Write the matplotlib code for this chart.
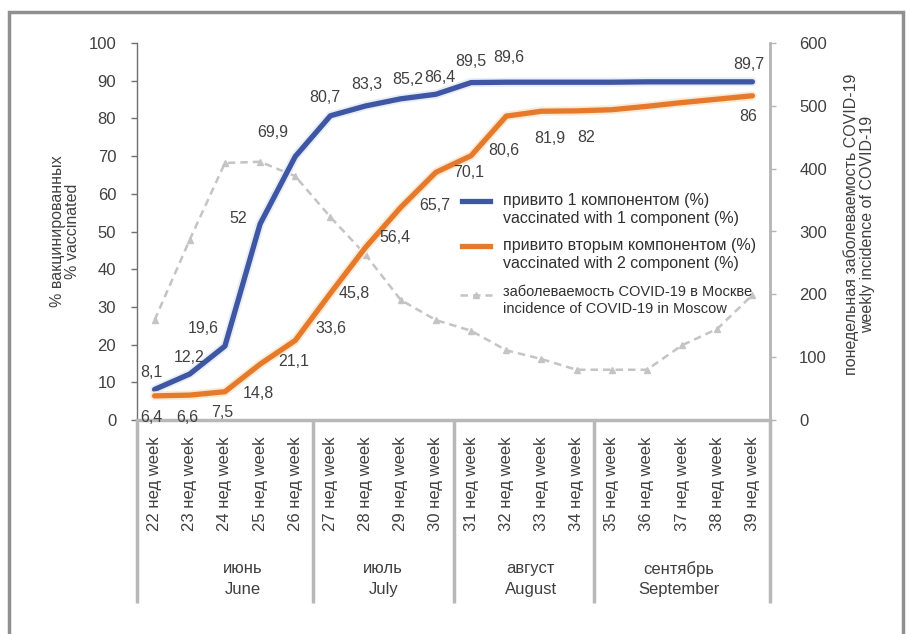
import numpy as np
import matplotlib
matplotlib.use("Agg")
import matplotlib.pyplot as plt
from matplotlib import patheffects as pe
from matplotlib import transforms
from matplotlib.patches import Rectangle

plt.rcParams['font.family'] = ['Liberation Sans', 'DejaVu Sans']

# недели и месяцы
nedeli = [f"{n} нед week" for n in range(22, 40)]
mesyacy = ["июнь\nJune", "июль\nJuly", "август\nAugust", "сентябрь\nSeptember"]
nedel_v_mesyace = [5, 4, 4, 5]

# % привитых
privito_1 = [8.1, 12.2, 19.6, 52, 69.9, 80.7, 83.3, 85.2, 86.4, 89.5, 89.6,
             89.6, 89.6, 89.6, 89.7, 89.7, 89.7, 89.7]
privito_2 = [6.4, 6.6, 7.5, 14.8, 21.1, 33.6, 45.8, 56.4, 65.7, 70.1, 80.6,
             81.9, 82, 82.3, 83.2, 84.2, 85.1, 86]
# заболеваемость по неделям
zabolevaemost = [159, 287, 409, 411, 388, 323, 263, 191, 159, 142, 111,
                 97, 80, 80, 80, 119, 145, 199]

# какие точки подписаны
podpisi_1 = list(range(11)) + [17]
podpisi_2 = list(range(13)) + [17]

# сдвиги подписей (пиксели)
sdvig_1 = [(-3, 17), (-1, 17), (-22, 18), (-22, 5), (-22, 24), (-6, 18),
           (1, 21), (7, 19), (4, 17), (0, 21), (3, 25), (-4, 17)]
sdvig_2 = [(-3, -22), (-2, -22), (-3, -21), (-2, -29), (-2, -21), (1, -35),
           (-11, -46), (-6, -30), (-1, -33), (-2, -17), (-2, -34), (8, -27),
           (10, -27), (-4, -21)]

SINIY = '#3f56a3'
ORANZH = '#e67a2c'
SERYJ = '#c4c4c4'
TEKST = '#404040'

fig = plt.figure(figsize=(9.06, 6.34), dpi=100)
ax = fig.add_axes([137 / 906, 1 - 420 / 634, 633 / 906, 377 / 634])
ax2 = ax.twinx()
ax.set_zorder(ax2.get_zorder() + 1)
ax.patch.set_visible(False)

x = np.arange(len(nedeli))

ax2.plot(x, zabolevaemost, color=SERYJ, lw=1.8, ls=(0, (3, 2)),
         marker='^', ms=5, mfc=SERYJ, mec=SERYJ)
ax.plot(x, privito_1, color=SINIY, lw=3.8, solid_capstyle='round',
        path_effects=[pe.Stroke(linewidth=6.5, foreground='#e8eef8'), pe.Normal()])
ax.plot(x, privito_2, color=ORANZH, lw=3.8, solid_capstyle='round',
        path_effects=[pe.Stroke(linewidth=6.5, foreground='#fbead2'), pe.Normal()])

def podpis(v):
    return f"{v:g}".replace(".", ",")

for i, (dx, dy) in zip(podpisi_1, sdvig_1):
    ax.annotate(podpis(privito_1[i]), (i, privito_1[i]), xytext=(dx, dy),
                textcoords='offset pixels', ha='center', va='center',
                fontsize=11.5, color=TEKST)
for i, (dx, dy) in zip(podpisi_2, sdvig_2):
    ax.annotate(podpis(privito_2[i]), (i, privito_2[i]), xytext=(dx, dy),
                textcoords='offset pixels', ha='center', va='center',
                fontsize=11.5, color=TEKST)

ax.set_xlim(-0.5, len(nedeli) - 0.5)
ax.set_ylim(0, 100)
ax2.set_ylim(0, 600)
ax.set_yticks(range(0, 101, 10))
ax2.set_yticks(range(0, 601, 100))

for s in ['top', 'right']:
    ax.spines[s].set_visible(False)
for s in ['top', 'left', 'bottom']:
    ax2.spines[s].set_visible(False)
ax.spines['left'].set_color('#707070')
ax.spines['left'].set_linewidth(1)
ax.spines['bottom'].set_color('#b8b8b8')
ax.spines['bottom'].set_linewidth(2.5)
ax2.spines['right'].set_color('#b4b4b4')
ax2.spines['right'].set_linewidth(2)

ax.tick_params(axis='y', length=4, width=1, color='#707070', pad=11,
               labelsize=12, labelcolor=TEKST)
ax2.tick_params(axis='y', length=4, width=1, color='#b4b4b4', pad=17,
                labelsize=12, labelcolor=TEKST)
ax.set_xticks(x)
ax.set_xticklabels(nedeli, rotation=90, fontsize=12, color=TEKST)
ax.tick_params(axis='x', length=0, pad=12)

# разделители месяцев и подписи месяцев
trans = transforms.blended_transform_factory(ax.transData, ax.transAxes)
granicy = np.concatenate([[0], np.cumsum(nedel_v_mesyace)]) - 0.5
for g in granicy:
    ax.plot([g, g], [0, -0.485], transform=trans, color='#b8b8b8', lw=2.5,
            clip_on=False, solid_capstyle='butt')
centry = [2.5, 6.5, 10.7, 14.9]
for xm, m in zip(centry, mesyacy):
    ax.text(xm, -0.422, m, transform=trans, ha='center', va='center',
            fontsize=12, linespacing=1.45, color=TEKST)

fig.text(65 / 906, 1 - 231 / 634, "% вакцинированных\n% vaccinated",
         rotation=90, ha='center', va='center', fontsize=11.5,
         linespacing=1.0, color=TEKST)
fig.text(859 / 906, 1 - 224 / 634,
         "понедельная заболеваемость COVID-19\nweekly incidence of COVID-19",
         rotation=90, ha='center', va='center', fontsize=11.5,
         linespacing=1.1, color=TEKST)

# легенда
legenda = [
    (SINIY, '-', None, "привито 1 компонентом (%)\nvaccinated with 1 component (%)", 201, 11.5),
    (ORANZH, '-', None, "привито вторым компонентом (%)\nvaccinated with 2 component (%)", 246, 11.5),
    (SERYJ, (0, (3, 2)), '^', "заболеваемость COVID-19 в Москве\nincidence of COVID-19 in Moscow", 293, 10.5),
]
for cvet, ls, mk, tekst, py, fs in legenda:
    yy = (420 - py) / 377
    if mk is None:
        ax.plot([(462 - 137) / 633, (490 - 137) / 633], [yy, yy],
                transform=ax.transAxes, color=cvet, lw=3.8, clip_on=False)
    else:
        ax.plot([(460 - 137) / 633, (492 - 137) / 633], [yy - 0.005] * 2,
                transform=ax.transAxes, color=cvet, lw=1.8, ls=ls, clip_on=False)
        ax.plot([(476 - 137) / 633], [yy - 0.005], transform=ax.transAxes,
                color=cvet, marker=mk, ms=5, clip_on=False)
    ax.text((503 - 137) / 633, yy + 0.022, tekst, transform=ax.transAxes,
            ha='left', va='top', fontsize=fs, linespacing=1.3, color='#303030')

# рамка
fig.patches.append(Rectangle((9 / 906, -0.1), (903 - 9) / 906, 1.1 - 12 / 634,
                             transform=fig.transFigure, fill=False,
                             edgecolor='#909090', lw=2.5))

fig.savefig('out.png', dpi=100)
